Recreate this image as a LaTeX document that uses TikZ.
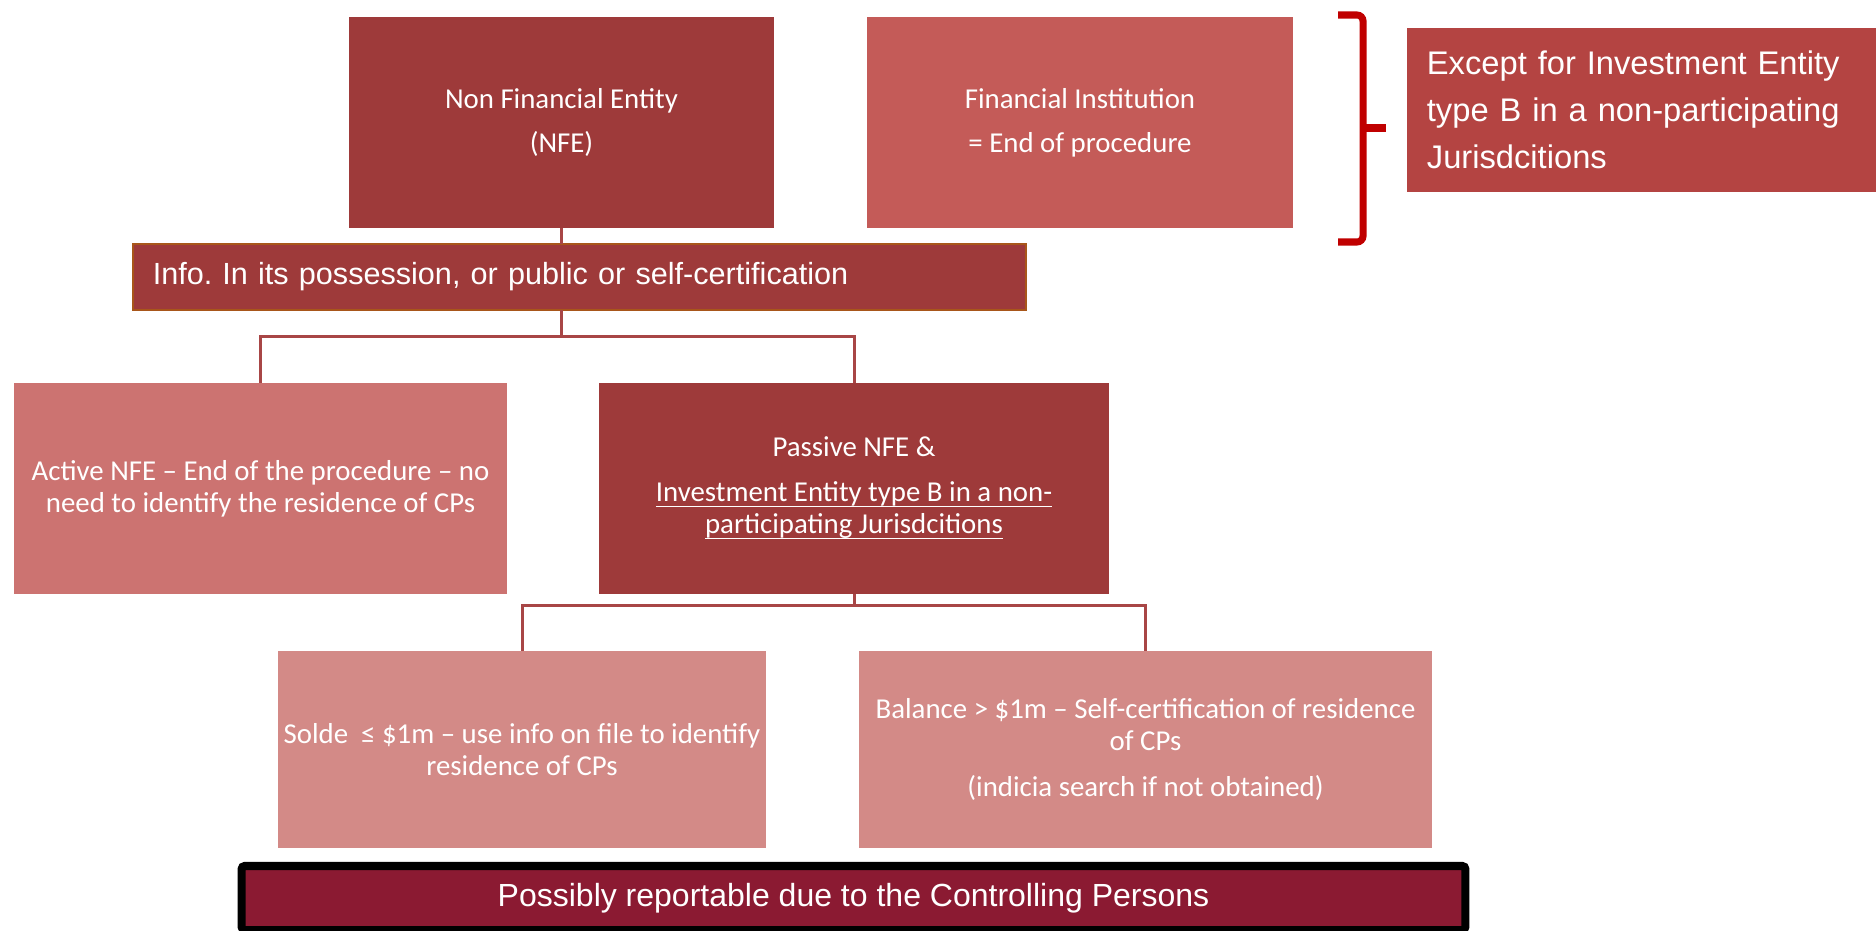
\documentclass[tikz,border=0pt]{standalone}
\usepackage{fontspec}
\setmainfont{Carlito}
\newfontfamily\arialfont{Liberation Sans}
\definecolor{darkred}{HTML}{9E3A3A}
\definecolor{fired}{HTML}{C45B58}
\definecolor{exceptred}{HTML}{B44442}
\definecolor{activered}{HTML}{CC7371}
\definecolor{pinkred}{HTML}{D38A87}
\definecolor{burgundy}{HTML}{8B1A32}
\definecolor{linkred}{HTML}{A84646}
\definecolor{bracered}{HTML}{C00000}
\definecolor{infoborder}{HTML}{A8561A}
\newcommand{\ultext}[1]{\underline{\smash{#1}}}
\frenchspacing

\begin{document}
\begin{tikzpicture}[x=0.01cm,y=-0.01cm,
    box/.style={inner sep=0pt,outer sep=0pt,align=center,text=white,
        font=\fontsize{8.2}{9.1}\selectfont},
    bigbox/.style={box,minimum height=2.11cm},
    lowbox/.style={box,fill=pinkred,minimum height=1.97cm},
    link/.style={draw=linkred,line width=0.85pt}]
    \useasboundingbox (0,0) rectangle (1876,930);
    % first row
    \node[bigbox,fill=darkred,minimum width=4.25cm] (nfe) at (561.5,122.5)
        {Non Financial Entity\\[3.4pt](NFE)};
    \node[bigbox,fill=fired,minimum width=4.26cm] (fi) at (1080,122.5)
        {Financial Institution\\[3.4pt]= End of procedure};
    \node[box,fill=exceptred,align=left,text width=4.29cm,inner xsep=0.2cm,minimum height=1.64cm,
        font=\arialfont\fontsize{9.3}{13.4}\selectfont] (except) at (1641.5,110)
        {Except for Investment Entity\\type B in a non-participating\\Jurisdcitions};
    \draw[bracered,line width=2pt,rounded corners=0.06cm] (1338,15) -| (1363,128) |- (1338,242);
    \draw[bracered,line width=2pt] (1363,128) -- (1386,128);
    % info
    \node[box,fill=darkred,draw=infoborder,line width=0.6pt,align=left,text width=8.53cm,
        inner xsep=0.2cm,minimum height=0.66cm,
        font=\arialfont\fontsize{8.7}{10.5}\selectfont] (info) at (579.5,277)
        {Info. In its possession, or public or self-certification};
    % second row
    \node[bigbox,fill=activered,minimum width=4.93cm] (active) at (260.5,488.5)
        {Active NFE – End of the procedure – no\\need to identify the residence of CPs};
    \node[bigbox,fill=darkred,minimum width=5.10cm] (passive) at (854,488.5)
        {Passive NFE \&\\[3.8pt]\ultext{Investment Entity type B in a non-}\\\ultext{participating Jurisdcitions}};
    % third row
    \node[lowbox,minimum width=4.88cm] (solde) at (522,749.5)
        {Solde~ ≤ \$1m – use info on file to identify\\residence of CPs};
    \node[lowbox,minimum width=5.73cm] (balance) at (1145.5,749.5)
        {Balance > \$1m – Self-certification of residence\\of CPs\\[3.8pt](indicia search if not obtained)};
    \node[box,fill=burgundy,draw=black,line width=0.08cm,rounded corners=0.03cm,
        minimum width=12.23cm,minimum height=0.64cm,
        font=\arialfont\fontsize{9.1}{11}\selectfont] (report) at (853.5,898)
        {Possibly reportable due to the Controlling Persons};
    % connectors
    \draw[link] (nfe.south) -- (nfe.south |- info.north);
    \draw[link] (nfe.south |- info.south) -- ++(0,26) -| (active.north);
    \draw[link] (nfe.south |- info.south) -- ++(0,26) -| (passive.north);
    \draw[link] (passive.south) -- ++(0,11) -| (solde.north);
    \draw[link] (passive.south) -- ++(0,11) -| (balance.north);
\end{tikzpicture}
\end{document}
